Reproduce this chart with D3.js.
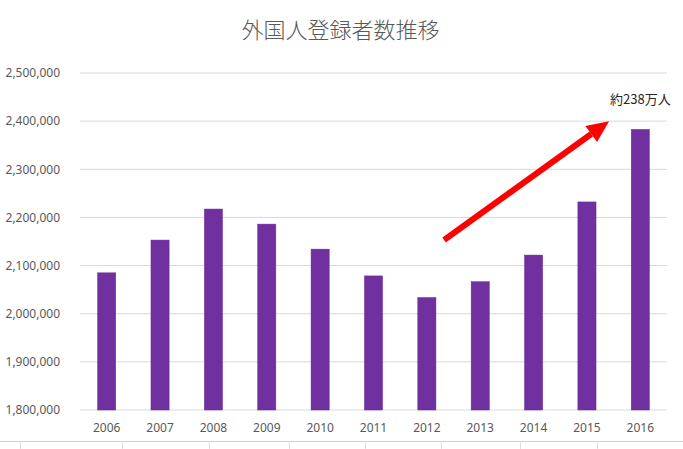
<!DOCTYPE html>
<html lang="ja">
<head>
<meta charset="utf-8">
<title>外国人登録者数推移</title>
<script src="https://cdn.jsdelivr.net/npm/d3@7"></script>
<style>
  body { margin: 0; background: #fff; }
  svg text { fill: #595959; }
  .tick text { font-family: "Liberation Sans Narrow", "Noto Sans", sans-serif; font-size: 12px; }
</style>
</head>
<body>
<script>
// data
var years = ["2006", "2007", "2008", "2009", "2010", "2011", "2012", "2013", "2014", "2015", "2016"];
var counts = [2084919, 2152973, 2217426, 2186121, 2134151, 2078508, 2033656, 2066445, 2121831, 2232189, 2382822];
var yTicks = [1800000, 1900000, 2000000, 2100000, 2200000, 2300000, 2400000, 2500000];
var note = "約238万人";

var W = 683, H = 449;
var m = {top: 73, right: 16, bottom: 39, left: 80};

var svg = d3.select("body").append("svg")
    .attr("width", W).attr("height", H);

var x = d3.scaleBand().domain(years).range([m.left, W - m.right]).paddingInner(0.66).paddingOuter(0.33);
var y = d3.scaleLinear().domain([1800000, 2500000]).range([H - m.bottom, m.top]);

// gridlines
svg.append("g").selectAll("line")
    .data(yTicks)
    .enter().append("line")
    .attr("x1", m.left).attr("x2", W - m.right)
    .attr("y1", function(d) { return y(d); })
    .attr("y2", function(d) { return y(d); })
    .attr("stroke", "#d9d9d9").attr("stroke-width", 1);

// y axis labels
var yAxis = svg.append("g")
    .attr("transform", "translate(" + (m.left - 17) + ",0)")
    .call(d3.axisLeft(y).tickValues(yTicks).tickSize(0).tickFormat(d3.format(",")));
yAxis.select(".domain").remove();

// x axis labels
var xAxis = svg.append("g")
    .attr("transform", "translate(0," + (H - m.bottom) + ")")
    .call(d3.axisBottom(x).tickSize(0).tickPadding(13));
xAxis.select(".domain").remove();

// bars
svg.append("g").selectAll("rect")
    .data(counts)
    .enter().append("rect")
    .attr("x", function(d, i) { return x(years[i]); })
    .attr("width", x.bandwidth())
    .attr("y", function(d) { return y(d); })
    .attr("height", function(d) { return y(1800000) - y(d); })
    .attr("fill", "#7030a0")
    .attr("stroke", "#6a2c9a").attr("stroke-width", 0.5);

// title
svg.append("text")
    .attr("x", W / 2 - 1).attr("y", 38)
    .attr("text-anchor", "middle")
    .style("font-family", "'Noto Sans CJK JP', sans-serif")
    .style("font-size", "22px")
    .style("font-weight", 300)
    .text("外国人登録者数推移");

// red arrow toward the 2016 level
var ax0 = x("2012") + x.bandwidth() * 1.45, ay0 = y(2153000);
var ax1 = x("2015") + x.bandwidth() * 1.72, ay1 = y(2400000);
var ang = Math.atan2(ay1 - ay0, ax1 - ax0);
var headL = 22, headW = 10;
var bx = ax1 - headL * Math.cos(ang), by = ay1 - headL * Math.sin(ang);
svg.append("line")
    .attr("x1", ax0).attr("y1", ay0)
    .attr("x2", bx).attr("y2", by)
    .attr("stroke", "#ff0000").attr("stroke-width", 6);
svg.append("path")
    .attr("d", "M" + ax1 + "," + ay1 +
        "L" + (bx + headW * Math.sin(ang)) + "," + (by - headW * Math.cos(ang)) +
        "L" + (bx - headW * Math.sin(ang)) + "," + (by + headW * Math.cos(ang)) + "Z")
    .attr("fill", "#ff0000");

// note
svg.append("text")
    .attr("x", 610).attr("y", 104)
    .style("font-family", "'Noto Sans CJK JP', sans-serif")
    .style("font-size", "13px")
    .style("fill", "#262626")
    .text(note);

// sheet border at the bottom
svg.append("line")
    .attr("x1", 0).attr("x2", W).attr("y1", 441.5).attr("y2", 441.5)
    .attr("stroke", "#d0d0d0");
var seps = [20, 122, 209, 289, 365, 441, 520, 597];
svg.append("g").selectAll("line")
    .data(seps).enter().append("line")
    .attr("x1", function(d) { return d + 0.5; }).attr("x2", function(d) { return d + 0.5; })
    .attr("y1", 441).attr("y2", H)
    .attr("stroke", "#e0e0e0");
</script>
</body>
</html>
